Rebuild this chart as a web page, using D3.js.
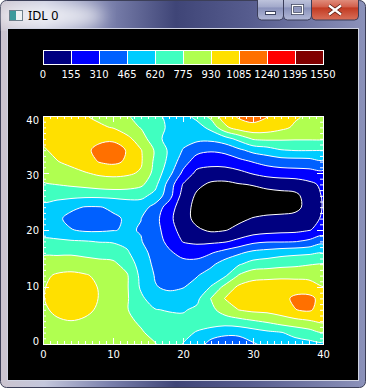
<!DOCTYPE html>
<html lang="en">
<head>
<meta charset="utf-8">
<title>IDL 0</title>
<script src="https://d3js.org/d3.v7.min.js"></script>
<style>
  body { margin: 0; background: #ffffff; }
  svg { display: block; }
  text { font-family: "DejaVu Sans", sans-serif; }
</style>
</head>
<body>
<script>
var w = 366, h = 388;

// colour bar levels and fill colours
var levels = [0, 155, 310, 465, 620, 775, 930, 1085, 1240, 1395, 1550];
var colors = ["#000080", "#0000ff", "#0060ff", "#00ccff", "#40ffc0",
              "#b0ff50", "#ffe000", "#ff7000", "#ff0000", "#800000"];

// sample grid (x across, y from top row 40 down to 0)
var gridX = [0, 2, 4, 6, 8, 10, 12, 14, 16, 18, 20, 22, 24, 26, 28, 30, 32, 34, 36, 38, 40];
var gridY = [40, 38, 36, 34, 32, 30, 28, 26, 24, 22, 20, 18, 16, 14, 12, 10, 8, 6, 4, 2, 0];
var z = [
  [1147,1132,1116,1093,1054,1008,946,868,806,744,713,822,977,1163,1263,1294,1248,1163,1108,1054,1023],
  [1163,1155,1147,1132,1108,1077,992,922,837,752,667,713,822,1054,1163,1201,1178,1124,1062,1008,984],
  [1108,1132,1155,1178,1209,1217,1132,1000,837,713,667,659,659,713,822,946,961,953,946,946,946],
  [1070,1116,1163,1209,1279,1302,1232,1093,915,752,612,512,481,504,589,667,705,767,783,783,778],
  [1023,1080,1116,1163,1248,1279,1217,1101,899,736,535,388,372,380,419,473,519,543,550,558,597],
  [984,1015,1046,1077,1108,1116,1108,1070,876,674,434,271,233,233,271,326,372,395,403,411,426],
  [915,933,953,977,1008,1023,1008,961,822,558,302,186,132,124,147,163,186,202,217,271,341],
  [829,822,814,806,806,814,822,814,729,527,248,132,78,70,85,93,109,116,124,209,326],
  [736,698,651,612,612,643,682,690,566,388,217,109,54,47,62,78,85,93,116,202,318],
  [713,651,574,550,558,597,636,622,519,349,217,109,62,85,124,163,186,194,202,240,333],
  [667,667,628,597,597,612,636,612,527,380,248,178,132,147,194,225,248,264,271,302,361],
  [822,806,791,783,767,760,729,628,535,426,302,279,279,295,349,423,450,450,457,496,574],
  [915,911,910,893,884,868,798,667,574,488,419,403,454,527,597,663,690,721,738,749,766],
  [969,992,1008,992,969,961,876,705,589,527,512,519,589,690,760,837,860,884,899,922,938],
  [1046,1108,1124,1101,1054,1008,946,736,612,558,550,612,690,752,946,1031,1039,1046,1039,1028,1008],
  [1070,1147,1163,1139,1077,1008,946,752,628,597,612,674,783,977,1116,1155,1170,1180,1185,1175,1087],
  [1077,1155,1178,1155,1080,1015,946,806,690,667,698,736,935,1090,1155,1178,1194,1200,1263,1271,1200],
  [1054,1124,1147,1124,1062,1000,938,853,783,763,760,806,891,1000,1088,1124,1132,1163,1236,1263,1170],
  [1008,1062,1082,1062,1023,984,961,907,853,829,814,822,860,853,876,915,953,1008,1039,1070,1116],
  [977,1015,1023,1015,992,977,961,946,884,829,806,767,705,660,665,705,744,767,822,868,922],
  [953,984,992,984,969,961,953,946,938,853,772,698,560,520,525,605,659,690,713,729,744]
];
var axisTicks = [0, 10, 20, 30, 40];

var svg = d3.select("body").append("svg")
    .attr("width", w)
    .attr("height", h);
var defs = svg.append("defs");

// ---- window frame ----
var fg = defs.append("linearGradient").attr("id", "frame")
    .attr("x1", 0).attr("x2", 1).attr("y1", 0).attr("y2", 0);
[[0, "#cbc4cf"], [0.12, "#c4c7dc"], [0.3, "#7a80ac"], [0.48, "#3f4577"],
 [0.68, "#565c8e"], [1, "#8c92ba"]].forEach(function (s) {
    fg.append("stop").attr("offset", s[0]).attr("stop-color", s[1]);
});
var glass = defs.append("linearGradient").attr("id", "btn")
    .attr("x1", 0).attr("x2", 0).attr("y1", 0).attr("y2", 1);
[[0, "#cdd2e6"], [0.45, "#a3aacb"], [0.5, "#8a92bb"], [1, "#b4bad8"]].forEach(function (s) {
    glass.append("stop").attr("offset", s[0]).attr("stop-color", s[1]);
});
var red = defs.append("linearGradient").attr("id", "close")
    .attr("x1", 0).attr("x2", 0).attr("y1", 0).attr("y2", 1);
[[0, "#e8a596"], [0.45, "#d2604c"], [0.5, "#c23a22"], [1, "#d9705a"]].forEach(function (s) {
    red.append("stop").attr("offset", s[0]).attr("stop-color", s[1]);
});
defs.append("filter").attr("id", "blur")
    .append("feGaussianBlur").attr("stdDeviation", 8);

svg.append("rect")
    .attr("x", 0.5).attr("y", 0.5)
    .attr("width", w - 1).attr("height", h - 1)
    .attr("rx", 6)
    .attr("fill", "url(#frame)")
    .attr("stroke", "#3c3f58");
svg.append("ellipse")
    .attr("cx", 50).attr("cy", 16).attr("rx", 55).attr("ry", 12)
    .attr("fill", "#ffffff").attr("opacity", 0.75)
    .attr("filter", "url(#blur)");

// icon + title
svg.append("rect").attr("x", 9.5).attr("y", 10.5).attr("width", 13).attr("height", 10)
    .attr("fill", "#eef2f4").attr("stroke", "#6f808c");
svg.append("rect").attr("x", 10).attr("y", 11).attr("width", 6).attr("height", 9)
    .attr("fill", "#3c9a9c");
svg.append("text")
    .attr("x", 28).attr("y", 20)
    .style("font-family", "'Noto Sans', sans-serif")
    .style("font-size", "12.5px")
    .attr("fill", "#000")
    .text("IDL 0");

// caption buttons
var buttons = [[257, 26, "url(#btn)"], [283, 28, "url(#btn)"], [311, 47, "url(#close)"]];
svg.selectAll("rect.cap")
    .data(buttons)
    .enter()
    .append("rect")
    .attr("class", "cap")
    .attr("x", function (d) { return d[0] + 0.5; })
    .attr("y", -4)
    .attr("width", function (d) { return d[1]; })
    .attr("height", 24)
    .attr("rx", 4)
    .attr("fill", function (d) { return d[2]; })
    .attr("stroke", "#3b3e5a");
svg.append("rect").attr("x", 265.5).attr("y", 11.5).attr("width", 10).attr("height", 3)
    .attr("fill", "#fff").attr("stroke", "#3d4460");
svg.append("rect").attr("x", 292.5).attr("y", 5.5).attr("width", 10).attr("height", 8)
    .attr("fill", "none").attr("stroke", "#3d4460").attr("stroke-width", 3);
svg.append("rect").attr("x", 292.5).attr("y", 5.5).attr("width", 10).attr("height", 8)
    .attr("fill", "none").attr("stroke", "#fff").attr("stroke-width", 1.4);
[["#5a1e14", 4], ["#ffffff", 2.2]].forEach(function (s) {
    svg.append("path")
        .attr("d", "M329,5.5L341,14.5M341,5.5L329,14.5")
        .attr("stroke", s[0]).attr("stroke-width", s[1]).attr("fill", "none");
});

// client area
svg.append("rect")
    .attr("x", 7.5).attr("y", 28.5)
    .attr("width", 351).attr("height", 352)
    .attr("fill", "#000")
    .attr("stroke", "#d0d3e2");

// ---- colour bar ----
var cb = d3.scaleLinear().domain([0, 1550]).range([43, 323]);
svg.selectAll("rect.bar")
    .data(colors)
    .enter()
    .append("rect")
    .attr("class", "bar")
    .attr("x", function (d, i) { return cb(levels[i]) + 0.5; })
    .attr("y", 50.5)
    .attr("width", function (d, i) { return cb(levels[i + 1]) - cb(levels[i]); })
    .attr("height", 14)
    .attr("fill", function (d) { return d; })
    .attr("stroke", "#fff");
svg.selectAll("text.lev")
    .data(levels)
    .enter()
    .append("text")
    .attr("class", "lev")
    .attr("x", function (d) { return cb(d); })
    .attr("y", 78)
    .attr("text-anchor", "middle")
    .attr("fill", "#fff")
    .style("font-size", "10px")
    .text(function (d) { return d; });

// ---- contour plot ----
var x = d3.scaleLinear().domain([0, 40]).range([43, 323]);
var y = d3.scaleLinear().domain([0, 40]).range([344, 116]);
// label centres sit a little inside the frame, as in the original
var yLab = d3.scaleLinear().domain([0, 40]).range([341.5, 120]);

var values = [];
z.forEach(function (row) { row.forEach(function (v) { values.push(v); }); });

var contours = d3.contours()
    .size([gridX.length, gridY.length])
    .thresholds(levels.slice(1, 10))(values);

// grid sample i sits at contour coordinate i + 0.5
function toPixel(p) {
    var xv = gridX[0] + (p[0] - 0.5) * (gridX[1] - gridX[0]);
    var yv = gridY[0] + (p[1] - 0.5) * (gridY[1] - gridY[0]);
    return [x(xv), y(yv)];
}
var ringLine = d3.line().curve(d3.curveCatmullRomClosed.alpha(0.5));
function smoothPath(mp) {
    return mp.coordinates.map(function (poly) {
        return poly.map(function (ring) {
            return ringLine(ring.slice(0, -1).map(toPixel));
        }).join("");
    }).join("");
}

defs.append("clipPath").attr("id", "plotclip")
    .append("rect")
    .attr("x", x(0)).attr("y", y(40))
    .attr("width", x(40) - x(0)).attr("height", y(0) - y(40));

var plot = svg.append("g").attr("clip-path", "url(#plotclip)");
plot.append("rect")
    .attr("x", x(0)).attr("y", y(40))
    .attr("width", x(40) - x(0)).attr("height", y(0) - y(40))
    .attr("fill", "#000");
plot.selectAll("path.band")
    .data(contours)
    .enter()
    .append("path")
    .attr("class", "band")
    .attr("d", smoothPath)
    .attr("fill", function (d, i) { return colors[i]; });
plot.selectAll("path.iso")
    .data(contours)
    .enter()
    .append("path")
    .attr("class", "iso")
    .attr("d", smoothPath)
    .attr("fill", "none")
    .attr("stroke", "#fff")
    .attr("stroke-width", 1);

// ---- axes (ticks point inward) ----
function styleAxis(g) {
    g.select(".domain").remove();
    g.selectAll("line").attr("stroke", "#fff");
}
svg.append("g").attr("transform", "translate(0," + y(0) + ")")
    .call(d3.axisBottom(x).ticks(40).tickSize(-3).tickFormat("")).call(styleAxis);
svg.append("g").attr("transform", "translate(0," + y(0) + ")")
    .call(d3.axisBottom(x).tickValues(axisTicks).tickSize(-6).tickFormat("")).call(styleAxis);
svg.append("g").attr("transform", "translate(0," + y(40) + ")")
    .call(d3.axisTop(x).ticks(40).tickSize(-3).tickFormat("")).call(styleAxis);
svg.append("g").attr("transform", "translate(0," + y(40) + ")")
    .call(d3.axisTop(x).tickValues(axisTicks).tickSize(-6).tickFormat("")).call(styleAxis);
svg.append("g").attr("transform", "translate(" + x(0) + ",0)")
    .call(d3.axisLeft(y).ticks(40).tickSize(-3).tickFormat("")).call(styleAxis);
svg.append("g").attr("transform", "translate(" + x(0) + ",0)")
    .call(d3.axisLeft(y).tickValues(axisTicks).tickSize(-6).tickFormat("")).call(styleAxis);
svg.append("g").attr("transform", "translate(" + x(40) + ",0)")
    .call(d3.axisRight(y).ticks(40).tickSize(-3).tickFormat("")).call(styleAxis);
svg.append("g").attr("transform", "translate(" + x(40) + ",0)")
    .call(d3.axisRight(y).tickValues(axisTicks).tickSize(-6).tickFormat("")).call(styleAxis);

svg.append("rect")
    .attr("x", x(0) + 0.5).attr("y", y(40) + 0.5)
    .attr("width", x(40) - x(0)).attr("height", y(0) - y(40))
    .attr("fill", "none")
    .attr("stroke", "#fff");

svg.selectAll("text.xl")
    .data(axisTicks)
    .enter()
    .append("text")
    .attr("class", "xl")
    .attr("x", function (d) { return x(d) + 0.5; })
    .attr("y", 358)
    .attr("text-anchor", "middle")
    .attr("fill", "#fff")
    .style("font-size", "10px")
    .text(function (d) { return d; });
svg.selectAll("text.yl")
    .data(axisTicks)
    .enter()
    .append("text")
    .attr("class", "yl")
    .attr("x", 39)
    .attr("y", function (d) { return yLab(d) + 3.6; })
    .attr("text-anchor", "end")
    .attr("fill", "#fff")
    .style("font-size", "10px")
    .text(function (d) { return d; });
</script>
</body>
</html>
